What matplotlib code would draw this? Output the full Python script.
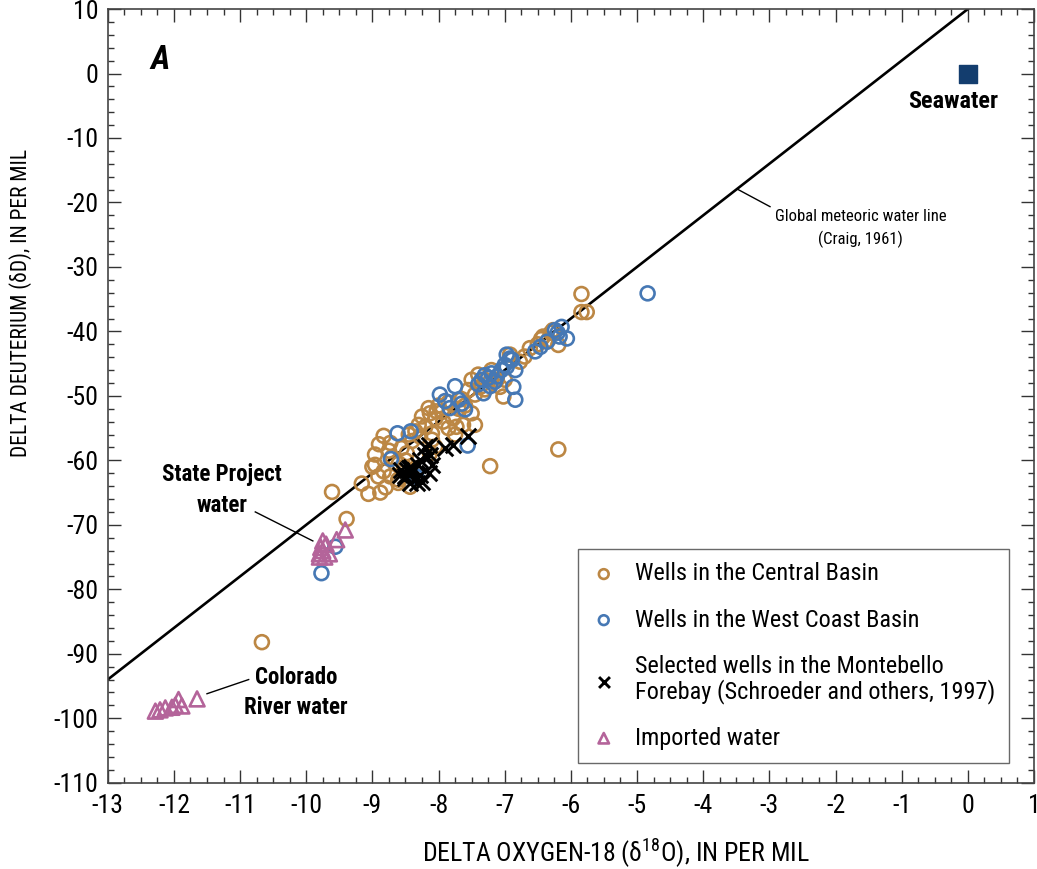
import matplotlib
matplotlib.use("Agg")
import matplotlib.pyplot as plt
from matplotlib.ticker import MultipleLocator

plt.rcParams['font.family'] = ['Roboto Condensed', 'Liberation Sans Narrow', 'Roboto', 'DejaVu Sans']
plt.rcParams['axes.unicode_minus'] = False

# --- datos: (delta 18O, delta D) en per mil ---
central_o18 = [-5.84, -5.84, -5.76, -6.19, -7.22, -9.39, -10.67, -9.61,
               -9.16, -9.06, -8.88, -8.61, -8.83, -8.96, -8.96, -8.83, -8.91, -8.73, -8.56, -8.48, -8.43, -8.61, -8.73,
               -8.25, -8.15, -8.13, -8.03, -8.20, -8.10, -8.28, -8.10, -8.05, -8.13,
               -7.93, -7.78, -7.73, -7.50, -7.45, -7.63, -7.55, -7.45, -7.40, -7.30, -7.37, -7.07, -7.02, -7.12,
               -6.92, -6.70, -6.77, -6.62, -6.42, -6.27, -6.19, -6.34,
               -8.60, -8.50, -8.70, -8.40, -8.35, -8.30, -8.45, -8.05, -7.95, -7.85, -7.65, -7.60, -7.30, -7.20,
               -7.50, -7.00, -6.50, -6.45, -6.30, -8.75, -8.90, -9.00, -8.80, -8.52, -7.75, -7.85, -8.00, -7.70]
central_d = [-34.2, -37.0, -37.0, -58.3, -60.9, -69.1, -88.2, -64.9,
             -63.6, -65.2, -65.0, -63.5, -56.2, -59.1, -60.7, -61.7, -62.5, -57.3, -58.1, -58.9, -64.1, -63.0, -62.5,
             -53.2, -51.9, -52.7, -52.4, -54.8, -55.8, -56.3, -56.8, -57.9, -58.9,
             -54.0, -53.5, -54.8, -52.7, -54.5, -54.5, -49.1, -49.8, -46.7, -47.5, -48.6, -48.6, -50.1, -47.5,
             -43.6, -43.9, -44.7, -42.6, -40.8, -39.8, -42.1, -41.3,
             -60.5, -60.0, -59.5, -57.0, -55.5, -54.5, -56.0, -53.5, -52.5, -51.0, -50.5, -51.5, -49.0, -46.0,
             -47.5, -47.5, -42.0, -41.2, -40.2, -58.5, -57.5, -61.0, -64.2, -61.0, -56.0, -55.0, -51.5, -52.0]

westcoast_o18 = [-4.84, -6.84, -6.87, -7.56, -8.34, -8.72, -8.62, -8.42, -7.98, -7.75, -7.83, -7.60, -7.70,
                 -7.32, -7.12, -6.97, -6.89, -6.97, -6.92, -6.84, -6.54, -6.46, -6.36, -6.24, -6.14, -6.06,
                 -6.17, -9.56, -9.77, -7.35, -7.30, -7.25, -7.20, -7.15, -7.05, -7.00, -7.40, -7.22, -7.90,
                 -7.65, -6.20]
westcoast_d = [-34.1, -50.6, -48.6, -57.7, -62.5, -59.8, -55.8, -55.5, -49.8, -48.5, -51.9, -52.1, -50.6,
               -49.6, -47.0, -45.5, -44.4, -43.6, -44.2, -46.0, -43.1, -42.4, -41.6, -39.8, -39.3, -41.1,
               -40.8, -73.4, -77.5, -47.5, -46.8, -47.2, -46.5, -47.8, -46.0, -45.2, -48.2, -48.5, -50.8,
               -51.2, -40.2]

montebello_o18 = [-7.55, -7.78, -7.90, -8.15, -8.20, -8.13, -8.20, -8.28, -8.31, -8.41, -8.10, -8.15,
                  -8.56, -8.51, -8.43, -8.33, -8.48, -8.41, -8.58, -8.28, -8.25, -8.50, -8.45]
montebello_d = [-56.3, -57.6, -58.1, -57.6, -57.9, -59.1, -59.1, -59.9, -60.7, -61.0, -60.7, -62.0,
                -61.5, -62.5, -63.5, -63.5, -61.5, -62.0, -62.2, -62.2, -63.3, -62.8, -61.2]

importada_o18 = [-9.41, -9.54, -9.80, -9.75, -9.70, -9.75, -9.80, -9.72, -9.65, -9.78,
                 -11.65, -11.93, -11.88, -12.03, -12.13, -12.21, -12.28, -11.98]
importada_d = [-70.8, -72.3, -74.5, -74.0, -73.0, -72.5, -75.0, -75.0, -74.5, -73.5,
               -97.0, -97.1, -98.1, -98.3, -98.4, -98.7, -98.9, -98.0]

agua_mar = (0.0, 0.0)
gmwl_x = [-13, 0]              # recta de Craig: dD = 8*d18O + 10
gmwl_y = [8 * x + 10 for x in gmwl_x]

# --- colores ---
C_CENTRAL = '#bc8744'
C_OESTE = '#4678b4'
C_IMPORT = '#b4649a'
C_MAR = '#133d6e'

fig = plt.figure(figsize=(10.37, 8.69), dpi=100)
ax = fig.add_axes([0.1039, 0.0993, 0.8932, 0.8903])

ax.plot(gmwl_x, gmwl_y, color='black', lw=1.9, zorder=2)

ax.scatter(central_o18, central_d, s=100, facecolors='none', edgecolors=C_CENTRAL,
           linewidths=1.9, zorder=3, label='Wells in the Central Basin')
ax.scatter(westcoast_o18, westcoast_d, s=100, facecolors='none', edgecolors=C_OESTE,
           linewidths=1.9, zorder=4, label='Wells in the West Coast Basin')
ax.scatter(montebello_o18, montebello_d, s=125, marker='x', color='black',
           linewidths=2.1, zorder=5,
           label='Selected wells in the Montebello\nForebay (Schroeder and others, 1997)')
ax.scatter(importada_o18, importada_d, s=115, marker='^', facecolors='none', edgecolors=C_IMPORT,
           linewidths=1.9, zorder=5, label='Imported water')
ax.scatter([agua_mar[0]], [agua_mar[1]], s=180, marker='s', color=C_MAR, zorder=5)

# --- ejes ---
ax.set_xlim(-13, 1)
ax.set_ylim(-110, 10)
ax.xaxis.set_major_locator(MultipleLocator(1))
ax.xaxis.set_minor_locator(MultipleLocator(0.25))
ax.yaxis.set_major_locator(MultipleLocator(10))
ax.yaxis.set_minor_locator(MultipleLocator(2))
ax.tick_params(which='both', direction='in', top=True, right=True, color='#333333')
ax.tick_params(which='major', length=9.5, width=1.0, labelsize=18.5)
ax.tick_params(axis='x', which='major', pad=8)
ax.tick_params(axis='y', which='major', pad=7)
ax.tick_params(which='minor', length=4.5, width=1.0)
for sp in ax.spines.values():
    sp.set_color('#444444')
    sp.set_linewidth(1.2)

ax.set_xlabel('DELTA OXYGEN-18 (δ$^{\\mathregular{18}}$O), IN PER MIL', fontsize=18.5)
ax.set_ylabel('DELTA DEUTERIUM (δD), IN PER MIL', fontsize=15.5)
ax.xaxis.set_label_coords(0.548, -0.069)
ax.yaxis.set_label_coords(-0.082, 0.62)

# --- rótulos y líneas guía ---
ax.text(-12.21, 2.1, 'A', fontsize=24, fontweight='bold', fontstyle='italic', ha='center', va='center')
ax.text(-0.22, -4.3, 'Seawater', fontsize=17.5, fontweight='bold', ha='center', va='center')

ax.plot([-3.49, -2.99], [-17.9, -20.65], color='black', lw=1.0)
ax.text(-1.62, -24.1, 'Global meteoric water line\n(Craig, 1961)', fontsize=12,
        ha='center', va='center', linespacing=1.5)

ax.plot([-10.77, -9.9], [-68.0, -72.5], color='black', lw=1.0)
ax.text(-11.27, -64.6, 'State Project\nwater', fontsize=16.5, fontweight='bold',
        ha='center', va='center', linespacing=1.4)

ax.plot([-10.87, -11.5], [-94.0, -96.2], color='black', lw=1.0)
ax.text(-10.15, -96.0, 'Colorado\nRiver water', fontsize=16.5, fontweight='bold',
        ha='center', va='center', linespacing=1.35)

leg = ax.legend(loc='lower right', bbox_to_anchor=(0.973, 0.0255), fontsize=17.5, frameon=True,
                fancybox=False, edgecolor='#444444', labelspacing=0.95, handletextpad=0.8,
                borderpad=0.55, markerscale=0.7, handlelength=1.0, borderaxespad=0)
leg.get_frame().set_linewidth(1.0)
for t in leg.get_texts():
    t.set_linespacing(1.05)

fig.savefig('out.png', dpi=100)
